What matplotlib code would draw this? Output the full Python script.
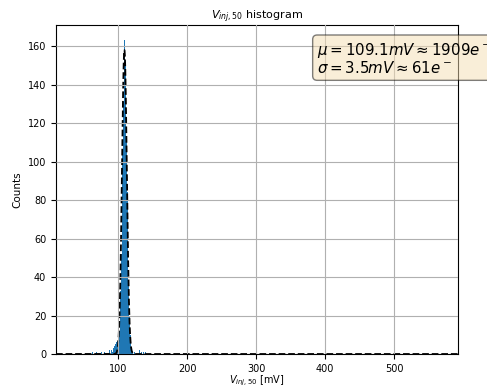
import numpy as np
import matplotlib
matplotlib.use("Agg")
import matplotlib.pyplot as plt

# histogram of V_inj,50 (1 mV bins), only non-empty bins listed
bin_centers = [62.5, 68.5, 75.5, 80.5, 85.5, 87.5, 89.5, 90.5, 91.5,
               92.5, 93.5, 94.5, 95.5, 96.5, 97.5, 98.5, 99.5, 100.5,
               101.5, 102.5, 103.5, 104.5, 105.5, 106.5, 107.5, 108.5,
               109.5, 110.5, 111.5, 112.5, 113.5, 114.5, 115.5, 116.5,
               117.5, 118.5, 119.5, 120.5, 123.5, 127.5, 130.5, 133.5,
               136.5, 139.5]
counts = [1, 1, 1, 1, 1, 2, 1, 2, 1,
          2, 3, 4, 5, 5, 6, 8, 7, 9,
          12, 20, 33, 52, 78, 104, 131, 149,
          163, 152, 134, 110, 84, 58, 36, 20,
          10, 5, 2, 1, 1, 1, 2, 1,
          1, 1]
bin_edges = np.arange(10, 593, 1)

# gaussian fit
mu = 109.1
sigma = 3.5
amp = 158

fig = plt.figure(figsize=(4.87, 3.87), dpi=100)
ax = fig.add_axes([0.115, 0.0853, 0.825, 0.85])

ax.hist(bin_centers, bins=bin_edges, weights=counts, color='C0')
xs = np.linspace(10, 592, 3000)
ax.plot(xs, amp * np.exp(-(xs - mu)**2 / (2 * sigma**2)), 'k--', lw=1.3)

ax.set_xlim(10, 592)
ax.set_ylim(0, 171)
ax.set_yticks(range(0, 161, 20))
ax.grid(True)
ax.set_axisbelow(False)
ax.tick_params(labelsize=7)
ax.set_xlabel(r'$V_{inj,50}$ [mV]', fontsize=7, labelpad=0)
ax.set_ylabel('Counts', fontsize=7.5)
ax.set_title(r'$V_{inj,50}$ histogram', fontsize=8, pad=4)

txt = '$\\mu=109.1mV\\approx1909e^-$\n$\\sigma=3.5mV\\approx61e^-$'
ax.text(0.65, 0.95, txt, transform=ax.transAxes, fontsize=10.8,
        va='top', linespacing=0.95,
        bbox=dict(boxstyle='round', facecolor='wheat', alpha=0.5))

fig.savefig('out.png', dpi=100)
